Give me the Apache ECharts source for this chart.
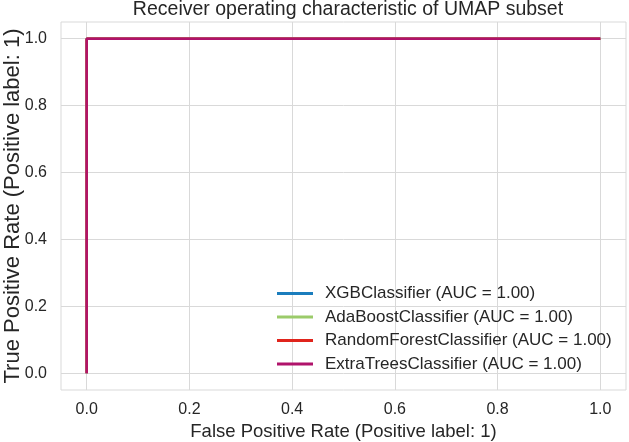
<!DOCTYPE html>
<html>
<head>
<meta charset="utf-8">
<title>ROC UMAP subset</title>
<script src="https://cdn.jsdelivr.net/npm/echarts@6/dist/echarts.min.js"></script>
<style>
  html, body { margin: 0; padding: 0; background: #fff; }
  #chart { width: 629px; height: 442px; }
</style>
</head>
<body>
<div id="chart"></div>
<script>
// ROC curves (false positive rate / true positive rate) for each classifier
const modelNames = [
  "XGBClassifier (AUC = 1.00)",
  "AdaBoostClassifier (AUC = 1.00)",
  "RandomForestClassifier (AUC = 1.00)",
  "ExtraTreesClassifier (AUC = 1.00)",
];
const fprXGB = [0, 0, 1];
const tprXGB = [0, 1, 1];
const fprAda = [0, 0, 1];
const tprAda = [0, 1, 1];
const fprRF = [0, 0, 1];
const tprRF = [0, 1, 1];
const fprET = [0, 0, 1];
const tprET = [0, 1, 1];
const tickValues = [0, 0.2, 0.4, 0.6, 0.8, 1.0];

const colors = ["#1b7dbd", "#9bcb6a", "#e0241c", "#b0136b"];
const curves = [
  [fprXGB, tprXGB],
  [fprAda, tprAda],
  [fprRF, tprRF],
  [fprET, tprET],
];

const font = "'Liberation Sans', Arial, sans-serif";
const txt = "#262626";

const chart = echarts.init(document.getElementById("chart"));

const series = curves.map((c, i) => ({
  name: modelNames[i],
  type: "line",
  data: c[0].map((x, j) => [x, c[1][j]]),
  showSymbol: false,
  symbol: "none",
  lineStyle: { color: colors[i], width: 2.4 },
  itemStyle: { color: colors[i] },
  animation: false,
}));

const option = {
  animation: false,
  title: {
    text: "Receiver operating characteristic of UMAP subset",
    left: 343,
    top: -5,
    textAlign: "center",
    textStyle: { fontFamily: font, fontSize: 19.5, fontWeight: "normal", color: txt },
  },
  legend: {
    orient: "vertical",
    left: 272,
    top: 280,
    itemWidth: 36,
    itemHeight: 3,
    itemGap: 6.5,
    icon: "rect",
    data: modelNames,
    textStyle: { fontFamily: font, fontSize: 17, color: txt, padding: [0, 0, 0, 7] },
  },
  grid: {
    left: 61,
    right: 3,
    top: 22,
    bottom: 52,
    outerBoundsMode: "none",
    containLabel: false,
    show: true,
    borderColor: "#d9d9d9",
    borderWidth: 1,
  },
  xAxis: {
    type: "value",
    min: -0.05,
    max: 1.05,
    name: "False Positive Rate (Positive label: 1)",
    nameLocation: "middle",
    nameGap: 32,
    nameMoveOverlap: false,
    nameTextStyle: { fontFamily: font, fontSize: 18.5, color: txt },
    axisLine: { show: false },
    axisTick: { show: false, customValues: tickValues },
    axisLabel: {
      customValues: tickValues,
      margin: 12,
      fontFamily: font,
      fontSize: 16,
      color: txt,
      formatter: (v) => v.toFixed(1),
    },
    splitLine: { show: true, lineStyle: { color: "#d9d9d9", width: 1 } },
  },
  yAxis: {
    type: "value",
    min: -0.05,
    max: 1.05,
    name: "True Positive Rate (Positive label: 1)",
    nameLocation: "middle",
    nameGap: 37,
    nameMoveOverlap: false,
    nameTextStyle: { fontFamily: font, fontSize: 22, color: txt },
    axisLine: { show: false },
    axisTick: { show: false, customValues: tickValues },
    axisLabel: {
      customValues: tickValues,
      margin: 14,
      fontFamily: font,
      fontSize: 16,
      color: txt,
      formatter: (v) => v.toFixed(1),
    },
    splitLine: { show: true, lineStyle: { color: "#d9d9d9", width: 1 } },
  },
  series: series,
};

chart.setOption(option);
</script>
</body>
</html>
